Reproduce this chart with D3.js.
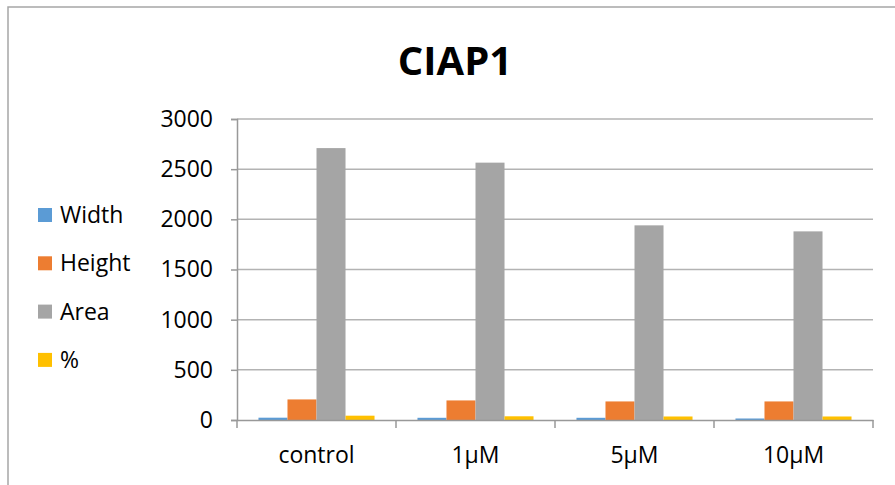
<!DOCTYPE html>
<html>
<head>
<meta charset="utf-8">
<script src="https://cdn.jsdelivr.net/npm/d3@7"></script>
<style>
html,body{margin:0;padding:0;background:#fff;}
svg{display:block;}
text{font-family:"Open Sans",sans-serif;fill:#000;}
</style>
</head>
<body>
<svg id="chart" width="895" height="485"></svg>
<script>
const categories = ["control", "1µM", "5µM", "10µM"];
const seriesNames = ["Width", "Height", "Area", "%"];
const widthValues = [23, 22, 22, 15];
const heightValues = [205, 195, 185, 185];
const areaValues = [2710, 2565, 1940, 1880];
const percentValues = [43, 37, 35, 35];
const yTicks = [0, 500, 1000, 1500, 2000, 2500, 3000];
const colors = ["#5B9BD5", "#ED7D31", "#A5A5A5", "#FFC000"];
const title = "CIAP1";

const seriesValues = [widthValues, heightValues, areaValues, percentValues];

const svg = d3.select("#chart");

// outer chart border (top and left visible)
svg.append("path")
  .attr("d", "M8,486 L8,7 L896,7")
  .attr("fill", "none")
  .attr("stroke", "#a6a6a6")
  .attr("stroke-width", 1.5);

// title
svg.append("text")
  .attr("x", 455).attr("y", 75)
  .attr("text-anchor", "middle")
  .attr("font-size", 40)
  .attr("font-weight", "bold")
  .text(title);

const plotLeft = 237, plotRight = 873, plotTop = 119, plotBottom = 420;

const x0 = d3.scaleBand().domain(categories).range([plotLeft, plotRight]).padding(0);
const x1 = d3.scaleBand().domain(seriesNames).range([0, x0.bandwidth()]).paddingInner(0).paddingOuter(0.74);
const y = d3.scaleLinear().domain([0, 3000]).range([plotBottom, plotTop]);

// gridlines
svg.append("g").selectAll("line").data(yTicks.filter(d => d > 0)).join("line")
  .attr("x1", plotLeft).attr("x2", plotRight)
  .attr("y1", d => y(d)).attr("y2", d => y(d))
  .attr("stroke", "#b3b3b3").attr("stroke-width", 1.5);

// y axis
const yAxis = d3.axisLeft(y).tickValues(yTicks).tickSize(6).tickPadding(18).tickFormat(d3.format("d"));
const yg = svg.append("g").attr("transform", `translate(${plotLeft},0)`).call(yAxis);
yg.select(".domain").attr("stroke", "#999").attr("stroke-width", 1.5);
yg.selectAll(".tick line").attr("stroke", "#999").attr("stroke-width", 1.5);
yg.selectAll(".tick text").attr("font-size", 23).attr("font-family", "Open Sans").attr("fill", "#000");

// bars
const groups = svg.append("g").selectAll("g").data(categories).join("g")
  .attr("transform", d => `translate(${x0(d)},0)`);
groups.selectAll("rect")
  .data((c, ci) => seriesNames.map((s, si) => ({s, si, v: seriesValues[si][ci]})))
  .join("rect")
  .attr("x", d => x1(d.s))
  .attr("width", x1.bandwidth())
  .attr("y", d => y(d.v))
  .attr("height", d => y(0) - y(d.v))
  .attr("fill", d => colors[d.si]);

// x axis
const xAxis = d3.axisBottom(x0).tickSize(0).tickPadding(0).tickFormat("");
const xg = svg.append("g").attr("transform", `translate(0,${plotBottom})`).call(xAxis);
xg.select(".domain").attr("stroke", "#999").attr("stroke-width", 1.5);
xg.selectAll(".tick").remove();
const bounds = categories.map(c => x0(c)).concat([x0(categories[categories.length-1]) + x0.bandwidth()]);
xg.selectAll("line.bound").data(bounds).join("line").attr("class", "bound")
  .attr("x1", d => d).attr("x2", d => d).attr("y1", 0).attr("y2", 8)
  .attr("stroke", "#999").attr("stroke-width", 1.5);
xg.selectAll("text.cat").data(categories).join("text").attr("class", "cat")
  .attr("x", d => x0(d) + x0.bandwidth() / 2)
  .attr("y", 43)
  .attr("text-anchor", "middle")
  .attr("font-size", 23)
  .text(d => d);

// legend
const legend = svg.append("g").selectAll("g").data(seriesNames).join("g")
  .attr("transform", (d, i) => `translate(38,${208 + i * 48.3})`);
legend.append("rect").attr("width", 14).attr("height", 14).attr("fill", (d, i) => colors[i]);
legend.append("text").attr("x", 22).attr("y", 15).attr("font-size", 23).text(d => d);
</script>
</body>
</html>
